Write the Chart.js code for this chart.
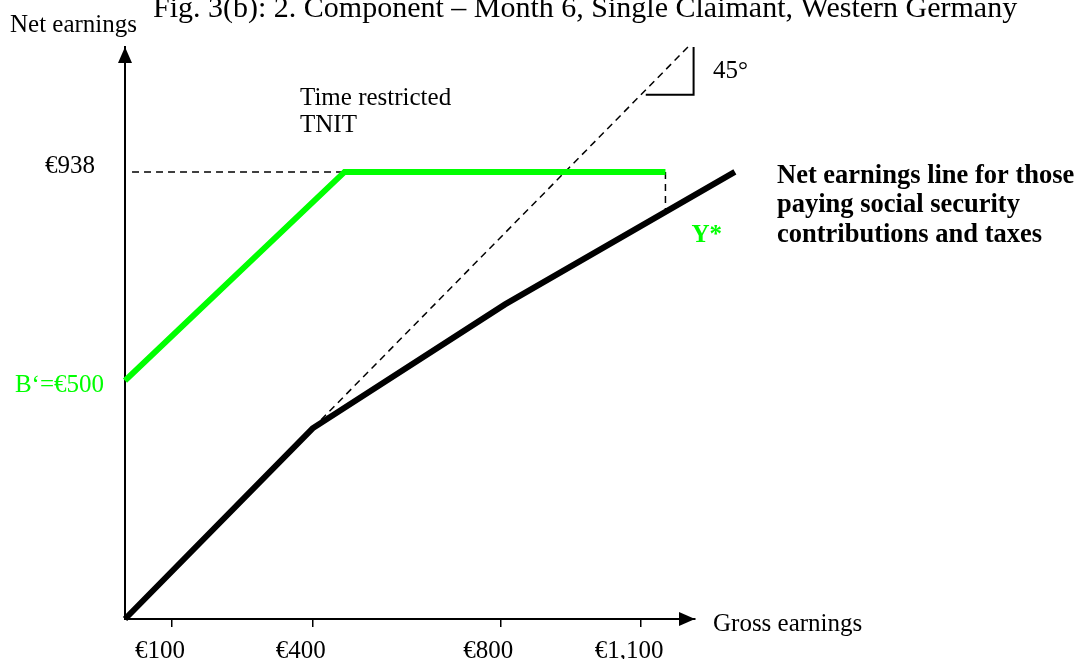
<!DOCTYPE html>
<html>
<head>
<meta charset="utf-8">
<title>Fig. 3(b)</title>
<script src="https://cdn.jsdelivr.net/npm/chart.js@4"></script>
<style>
  html, body { margin: 0; padding: 0; background: #fff; }
  canvas { display: block; }
</style>
</head>
<body>
<canvas id="chart" width="1081" height="665"></canvas>
<script>
// gross earnings (x) -> net earnings (y), in euro
const tnitLine = [{ x: 0, y: 500 }, { x: 468, y: 938 }, { x: 1152, y: 938 }];
const netLine = [{ x: 0, y: 0 }, { x: 400, y: 400 }, { x: 810, y: 660 }, { x: 1300, y: 938 }];
const diagonal = [{ x: 400, y: 400 }, { x: 1200, y: 1200 }];
const level938 = [{ x: 15, y: 938 }, { x: 468, y: 938 }];
const yStarDrop = [{ x: 1152, y: 938 }, { x: 1152, y: 858 }];
const angleMark = [{ x: 1110, y: 1100 }, { x: 1212, y: 1100 }, { x: 1212, y: 1200 }];

const xTicks = [100, 400, 800, 1100];
const xTickLabels = ['€100', '€400', '€800', '€1,100'];

const SERIF = '"Liberation Serif", "Times New Roman", serif';
const GREEN = '#00ff00';

function line(data, color, width, dash) {
  return {
    data,
    showLine: true,
    borderColor: color,
    borderWidth: width,
    borderDash: dash || [],
    pointRadius: 0,
    pointHoverRadius: 0,
    clip: false,
    tension: 0
  };
}

// arrow heads, title and annotation texts
const annotations = {
  id: 'annotations',
  afterDraw(chart) {
    const { ctx, chartArea: a, scales: { x, y } } = chart;
    ctx.save();
    ctx.fillStyle = '#000';

    // axis arrow heads
    ctx.beginPath();
    ctx.moveTo(a.left, a.top);
    ctx.lineTo(a.left - 7, a.top + 16);
    ctx.lineTo(a.left + 7, a.top + 16);
    ctx.closePath();
    ctx.fill();
    ctx.beginPath();
    ctx.moveTo(a.right, a.bottom);
    ctx.lineTo(a.right - 16, a.bottom - 7);
    ctx.lineTo(a.right - 16, a.bottom + 7);
    ctx.closePath();
    ctx.fill();

    ctx.textBaseline = 'alphabetic';
    ctx.textAlign = 'left';
    ctx.font = '30px ' + SERIF;
    ctx.fillText('Fig. 3(b): 2. Component – Month 6, Single Claimant, Western Germany', 153, 17);
    ctx.font = '25px ' + SERIF;
    ctx.fillText('Net earnings', 10, 32);
    ctx.fillText('Time restricted', 300, 105);
    ctx.fillText('TNIT', 300, 132);
    ctx.fillText('45°', 713, 78);
    ctx.fillText('Gross earnings', 713, 631);

    ctx.textAlign = 'right';
    ctx.fillText('€938', 95, y.getPixelForValue(938) + 1);
    ctx.fillStyle = GREEN;
    ctx.fillText('B‘=€500', 104, y.getPixelForValue(500) + 11);

    ctx.textAlign = 'left';
    ctx.font = 'bold 25px ' + SERIF;
    ctx.fillText('Y*', x.getPixelForValue(1152) + 26, 242);
    ctx.fillStyle = '#000';
    ctx.font = 'bold 26.5px ' + SERIF;
    ctx.fillText('Net earnings line for those', 777, 183);
    ctx.fillText('paying social security', 777, 212);
    ctx.fillText('contributions and taxes', 777, 242);
    ctx.restore();
  }
};

new Chart(document.getElementById('chart'), {
  type: 'scatter',
  data: {
    datasets: [
      line(tnitLine, GREEN, 6),
      line(netLine, '#000', 6),
      line(diagonal, '#000', 1.5, [7, 5]),
      line(level938, '#000', 1.5, [7, 5]),
      line(yStarDrop, '#000', 1.5, [7, 5]),
      line(angleMark, '#000', 2)
    ]
  },
  options: {
    responsive: false,
    animation: false,
    events: [],
    layout: { padding: { left: 125, right: 386, top: 47, bottom: 6 } },
    plugins: { legend: { display: false }, tooltip: { enabled: false } },
    scales: {
      x: {
        type: 'linear',
        min: 0,
        max: 1215,
        afterBuildTicks: (scale) => { scale.ticks = xTicks.map((v) => ({ value: v })); },
        afterFit: (scale) => { scale.height = 40; },
        border: { display: true, color: '#000', width: 2 },
        grid: { drawOnChartArea: false, drawTicks: true, tickLength: 8, color: '#000', lineWidth: 1.5 },
        ticks: {
          color: '#000',
          font: { family: SERIF, size: 25 },
          padding: 9,
          labelOffset: -12,
          maxRotation: 0,
          autoSkip: false,
          callback: (value, i) => xTickLabels[i]
        }
      },
      y: {
        type: 'linear',
        min: 0,
        max: 1200,
        afterFit: (scale) => { scale.width = 0; },
        border: { display: true, color: '#000', width: 2 },
        grid: { display: false, drawTicks: false },
        ticks: { display: false }
      }
    }
  },
  plugins: [annotations]
});
</script>
</body>
</html>
